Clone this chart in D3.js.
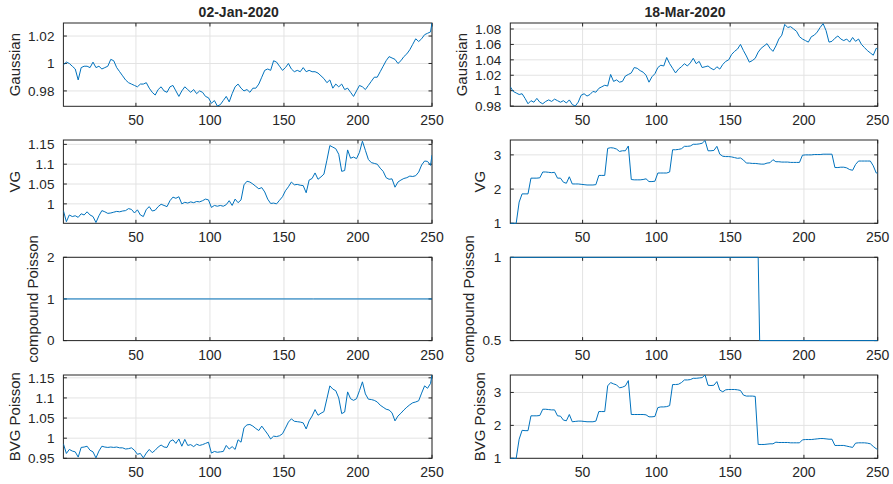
<!DOCTYPE html>
<html>
<head>
<meta charset="utf-8">
<script src="https://cdn.jsdelivr.net/npm/d3@7"></script>
<style>
	body { margin: 0; background: #fff; }
	svg { display: block; }
	text { font-family: "Liberation Sans", Arial, Helvetica, sans-serif; fill: #262626; }
</style>
</head>
<body>
<div id="chart"></div>
<script>
// sampled trading days (every second day, plus the last one)
const sampleDays = d3.range(1, 250, 2).concat([250])
const xTicks = [50, 100, 150, 200, 250]
const dates = ["02-Jan-2020", "18-Mar-2020"]
const rowLabels = ["Gaussian", "VG", "compound Poisson", "BVG Poisson"]

// 02-Jan-2020
const gaussJan = [
	0.999, 1.001, 1.000, 0.998, 0.996, 0.988, 0.997, 0.998, 0.998, 0.997,
	1.001, 0.997, 0.998, 0.996, 0.997, 0.998, 1.003, 1.002, 0.997, 0.994,
	0.991, 0.988, 0.986, 0.985, 0.984, 0.983, 0.985, 0.985, 0.986, 0.982,
	0.979, 0.977, 0.981, 0.983, 0.980, 0.979, 0.983, 0.984, 0.980, 0.976,
	0.980, 0.983, 0.981, 0.979, 0.981, 0.978, 0.980, 0.979, 0.976, 0.975,
	0.971, 0.973, 0.969, 0.970, 0.973, 0.976, 0.972, 0.978, 0.983, 0.985,
	0.982, 0.980, 0.981, 0.979, 0.982, 0.982, 0.985, 0.990, 0.995, 0.996,
	0.995, 1.002, 1.001, 0.998, 0.995, 0.997, 1.000, 0.996, 0.994, 0.995,
	0.994, 0.997, 0.994, 0.995, 0.994, 0.994, 0.993, 0.991, 0.989, 0.986,
	0.988, 0.982, 0.985, 0.983, 0.985, 0.981, 0.982, 0.979, 0.976, 0.980,
	0.984, 0.983, 0.981, 0.984, 0.987, 0.990, 0.990, 0.994, 0.998, 1.002,
	1.005, 1.004, 1.003, 1.000, 1.002, 1.005, 1.007, 1.010, 1.014, 1.018,
	1.016, 1.018, 1.021, 1.022, 1.023, 1.0295
]
const vgJan = [
	0.983, 0.955, 0.972, 0.968, 0.970, 0.966, 0.975, 0.972, 0.980, 0.972,
	0.968, 0.953, 0.970, 0.983, 0.980, 0.976, 0.977, 0.979, 0.981, 0.980,
	0.982, 0.983, 0.988, 0.986, 0.977, 0.985, 0.972, 0.968, 0.986, 0.993,
	0.982, 0.984, 0.993, 0.999, 0.996, 0.993, 1.008, 1.017, 1.014, 1.018,
	1.000, 1.004, 1.002, 1.005, 1.003, 1.006, 1.005, 1.008, 1.012, 1.010,
	0.991, 0.996, 0.994, 0.996, 0.994, 0.998, 1.008, 0.996, 1.012, 1.003,
	1.010, 1.048, 1.057, 1.055, 1.050, 1.044, 1.038, 1.041, 1.030, 1.012,
	1.001, 1.002, 1.000, 1.009, 1.018, 1.033, 1.043, 1.055, 1.048, 1.049,
	1.047, 1.046, 1.028, 1.060, 1.064, 1.078, 1.062, 1.068, 1.075, 1.110,
	1.147, 1.143, 1.139, 1.125, 1.082, 1.084, 1.136, 1.115, 1.118, 1.114,
	1.130, 1.158, 1.135, 1.112, 1.104, 1.102, 1.100, 1.090, 1.082, 1.066,
	1.062, 1.063, 1.042, 1.055, 1.060, 1.064, 1.066, 1.070, 1.069, 1.071,
	1.080, 1.098, 1.108, 1.107, 1.097, 1.123
]
const bvgJan = [
	0.986, 0.962, 0.972, 0.968, 0.966, 0.953, 0.977, 0.978, 0.980, 0.970,
	0.966, 0.951, 0.968, 0.980, 0.978, 0.977, 0.978, 0.977, 0.978, 0.976,
	0.976, 0.973, 0.974, 0.976, 0.970, 0.960, 0.962, 0.951, 0.963, 0.972,
	0.964, 0.970, 0.978, 0.983, 0.978, 0.977, 0.992, 0.996, 0.987, 0.998,
	0.980, 0.997, 0.982, 0.984, 0.979, 0.985, 0.982, 0.984, 0.987, 0.990,
	0.963, 0.967, 0.965, 0.966, 0.967, 0.982, 0.973, 0.979, 0.972, 0.996,
	0.990, 1.026, 1.033, 1.034, 1.030, 1.024, 1.019, 1.030, 1.020, 1.010,
	0.998, 1.005, 1.004, 1.006, 1.011, 1.025, 1.040, 1.048, 1.042, 1.041,
	1.040, 1.038, 1.023, 1.043, 1.055, 1.071, 1.057, 1.062, 1.066, 1.098,
	1.130, 1.122, 1.118, 1.100, 1.061, 1.065, 1.115, 1.098, 1.094, 1.098,
	1.118, 1.140, 1.110, 1.097, 1.096, 1.094, 1.090, 1.082, 1.077, 1.072,
	1.070, 1.063, 1.043, 1.055, 1.062, 1.070, 1.077, 1.083, 1.088, 1.090,
	1.093, 1.112, 1.130, 1.124, 1.136, 1.157
]

// 18-Mar-2020
const gaussMar = [
	1.005, 0.999, 0.997, 0.995, 0.996, 0.990, 0.983, 0.987, 0.985, 0.990,
	0.985, 0.983, 0.986, 0.988, 0.986, 0.989, 0.987, 0.985, 0.987, 0.984,
	0.988, 0.982, 0.980, 0.985, 0.994, 0.996, 0.993, 0.995, 0.999, 0.998,
	1.003, 1.005, 1.007, 1.006, 1.021, 1.012, 1.014, 1.011, 1.012, 1.019,
	1.021, 1.023, 1.030, 1.029, 1.026, 1.024, 1.020, 1.011, 1.018, 1.022,
	1.030, 1.033, 1.032, 1.043, 1.035, 1.029, 1.023, 1.028, 1.031, 1.035,
	1.032, 1.036, 1.042, 1.035, 1.038, 1.030, 1.031, 1.032, 1.029, 1.027,
	1.031, 1.028, 1.034, 1.038, 1.040, 1.047, 1.051, 1.054, 1.060, 1.052,
	1.045, 1.037, 1.039, 1.042, 1.050, 1.055, 1.058, 1.061, 1.055, 1.051,
	1.058, 1.067, 1.072, 1.086, 1.082, 1.083, 1.080, 1.077, 1.070, 1.067,
	1.065, 1.063, 1.070, 1.072, 1.076, 1.082, 1.087, 1.078, 1.063, 1.064,
	1.068, 1.071, 1.067, 1.065, 1.067, 1.063, 1.069, 1.064, 1.067, 1.060,
	1.056, 1.052, 1.049, 1.046, 1.055, 1.054
]
const vgMar = [
	1.00, 1.00, 1.00, 1.62, 1.86, 1.86, 1.86, 2.32, 2.32, 2.32,
	2.33, 2.50, 2.50, 2.49, 2.48, 2.49, 2.32, 2.32, 2.20, 2.17,
	2.36, 2.15, 2.15, 2.15, 2.14, 2.13, 2.12, 2.12, 2.12, 2.13,
	2.40, 2.40, 2.40, 3.19, 3.21, 3.20, 3.17, 3.10, 3.12, 3.12,
	3.26, 2.28, 2.27, 2.27, 2.27, 2.28, 2.30, 2.22, 2.22, 2.23,
	2.47, 2.47, 2.47, 2.47, 2.50, 3.15, 3.15, 3.16, 3.18, 3.25,
	3.25, 3.26, 3.31, 3.31, 3.32, 3.34, 3.42, 3.12, 3.12, 3.13,
	3.25, 3.02, 2.96, 2.95, 2.95, 2.94, 2.92, 2.90, 2.91, 2.85,
	2.76, 2.76, 2.75, 2.75, 2.74, 2.73, 2.73, 2.76, 2.77, 2.86,
	2.80, 2.80, 2.79, 2.79, 2.79, 2.78, 2.78, 2.78, 2.78, 2.99,
	3.00, 3.00, 3.00, 3.01, 3.01, 3.01, 3.02, 3.02, 3.02, 3.02,
	2.63, 2.63, 2.64, 2.64, 2.62, 2.57, 2.55, 2.72, 2.82, 2.82,
	2.82, 2.82, 2.82, 2.68, 2.47, 2.47
]
const bvgMar = [
	1.00, 1.00, 1.00, 1.58, 1.85, 1.84, 1.84, 2.29, 2.29, 2.29,
	2.30, 2.49, 2.49, 2.48, 2.47, 2.47, 2.29, 2.28, 2.16, 2.14,
	2.33, 2.11, 2.12, 2.13, 2.13, 2.12, 2.11, 2.11, 2.11, 2.13,
	2.42, 2.42, 2.42, 3.20, 3.30, 3.26, 3.23, 3.14, 3.16, 3.20,
	3.36, 2.33, 2.33, 2.33, 2.33, 2.33, 2.32, 2.26, 2.26, 2.27,
	2.54, 2.56, 2.56, 2.57, 2.60, 3.24, 3.24, 3.25, 3.30, 3.38,
	3.38, 3.39, 3.43, 3.43, 3.44, 3.45, 3.53, 3.22, 3.21, 3.22,
	3.33, 3.07, 3.02, 3.08, 3.09, 3.09, 3.09, 3.08, 3.06, 2.92,
	2.89, 2.89, 2.89, 2.88, 1.42, 1.42, 1.42, 1.43, 1.44, 1.44,
	1.49, 1.48, 1.48, 1.48, 1.48, 1.47, 1.47, 1.47, 1.47, 1.56,
	1.57, 1.57, 1.57, 1.58, 1.59, 1.60, 1.60, 1.59, 1.58, 1.58,
	1.39, 1.39, 1.39, 1.39, 1.37, 1.35, 1.33, 1.46, 1.47, 1.47,
	1.47, 1.46, 1.44, 1.36, 1.29, 1.28
]

// compound Poisson is a step series, given at its break days
const cpDays = [1, 169, 170, 250]
const cpJan = [1, 1, 1, 1]
const cpMar = [1, 1, 0.5, 0.5]

// axis limits and ticks per panel (row-major: Jan, Mar)
const yLimits = [
	[0.9688, 1.0295], [0.9797, 1.0878],
	[0.951, 1.161], [1, 3.435],
	[0, 2], [0.5, 1],
	[0.95, 1.157], [1, 3.53]
]
const yTicks = [
	[0.98, 1, 1.02], [0.98, 1, 1.02, 1.04, 1.06, 1.08],
	[1, 1.05, 1.1, 1.15], [1, 2, 3],
	[0, 1, 2], [0.5, 1],
	[0.95, 1, 1.05, 1.1, 1.15], [1, 2, 3]
]

const panels = [
	{ days: sampleDays, values: gaussJan }, { days: sampleDays, values: gaussMar },
	{ days: sampleDays, values: vgJan }, { days: sampleDays, values: vgMar },
	{ days: cpDays, values: cpJan }, { days: cpDays, values: cpMar },
	{ days: sampleDays, values: bvgJan }, { days: sampleDays, values: bvgMar }
]

const width = 893
const height = 484
const colX = [[63.4, 432], [510.3, 877.7]]
const rowY = [23, 140, 257.3, 375]
const plotH = 83.3

const svg = d3.select("#chart").append("svg")
	.attr("width", width)
	.attr("height", height)

// titles (slightly left of the axes centre, as in the figure)
dates.forEach((t, c) => {
	svg.append("text")
		.attr("x", (colX[c][0] + colX[c][1]) / 2 - 9)
		.attr("y", 17)
		.attr("text-anchor", "middle")
		.style("font-size", "14px")
		.style("font-weight", "bold")
		.text(t)
})

panels.forEach((p, i) => {
	const row = Math.floor(i / 2), col = i % 2
	const [x0, x1] = colX[col]
	const top = rowY[row], bottom = top + plotH

	const x = d3.scaleLinear().domain([1, 250]).range([x0, x1])
	const y = d3.scaleLinear().domain(yLimits[i]).range([bottom, top])

	const g = svg.append("g")

	// grid
	g.selectAll(".gx").data(xTicks).enter().append("line")
		.attr("x1", d => x(d)).attr("x2", d => x(d))
		.attr("y1", top).attr("y2", bottom)
		.style("stroke", "#e3e3e3").style("stroke-width", 1)
	g.selectAll(".gy").data(yTicks[i]).enter().append("line")
		.attr("x1", x0).attr("x2", x1)
		.attr("y1", d => y(d)).attr("y2", d => y(d))
		.style("stroke", "#e3e3e3").style("stroke-width", 1)

	// data line
	const clipId = "clip" + i
	g.append("clipPath").attr("id", clipId)
		.append("rect").attr("x", x0).attr("y", top - 1).attr("width", x1 - x0).attr("height", plotH + 2)

	const line = d3.line()
		.x((d, k) => x(p.days[k]))
		.y(d => y(d))

	// box and inward ticks
	g.append("rect")
		.attr("x", x0).attr("y", top)
		.attr("width", x1 - x0).attr("height", plotH)
		.style("fill", "none").style("stroke", "#262626").style("stroke-width", 1)

	const tl = 3.5
	xTicks.forEach(t => {
		g.append("line").attr("x1", x(t)).attr("x2", x(t)).attr("y1", bottom).attr("y2", bottom - tl)
			.style("stroke", "#262626")
		g.append("line").attr("x1", x(t)).attr("x2", x(t)).attr("y1", top).attr("y2", top + tl)
			.style("stroke", "#262626")
	})
	yTicks[i].forEach(t => {
		g.append("line").attr("x1", x0).attr("x2", x0 + tl).attr("y1", y(t)).attr("y2", y(t))
			.style("stroke", "#262626")
		g.append("line").attr("x1", x1).attr("x2", x1 - tl).attr("y1", y(t)).attr("y2", y(t))
			.style("stroke", "#262626")
	})

	g.append("path")
		.datum(p.values)
		.attr("clip-path", `url(#${clipId})`)
		.attr("d", line)
		.style("fill", "none")
		.style("stroke", "#0072bd")
		.style("stroke-width", 1)

	// tick labels
	g.selectAll(".xl").data(xTicks).enter().append("text")
		.attr("x", d => x(d))
		.attr("y", bottom + 19)
		.attr("text-anchor", "middle")
		.style("font-size", "14px")
		.text(d => d)

	let leftMost = x0
	g.selectAll(".yl").data(yTicks[i]).enter().append("text")
		.attr("x", x0 - 9)
		.attr("y", d => y(d))
		.attr("dy", "0.35em")
		.attr("text-anchor", "end")
		.style("font-size", "13.5px")
		.text(d => String(d))
		.each(function () {
			leftMost = Math.min(leftMost, x0 - 9 - this.getComputedTextLength())
		})

	// y label
	const ly = (top + bottom) / 2
	g.append("text")
		.attr("transform", `translate(${leftMost - 8.5},${ly}) rotate(-90)`)
		.attr("text-anchor", "middle")
		.style("font-size", "15px")
		.text(rowLabels[row])
})
</script>
</body>
</html>
